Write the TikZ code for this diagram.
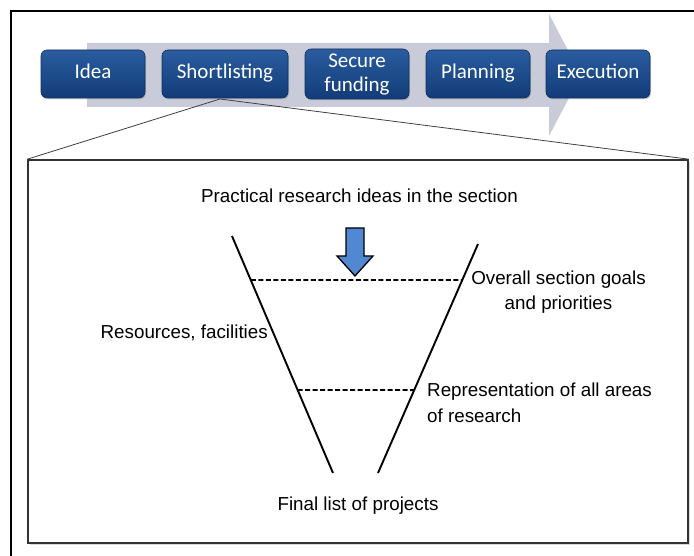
\documentclass[tikz,border=0pt]{standalone}
\usepackage{fontspec}
\setmainfont{Liberation Sans}
\newfontfamily\boxfont{Carlito}
\usetikzlibrary{shadows,calc}
\definecolor{stepblue}{HTML}{2A5C9F}
\definecolor{stepdark}{HTML}{123C78}
\definecolor{flowgray}{HTML}{C9CCD8}
\definecolor{dropblue}{HTML}{5288D2}

\begin{document}
\begin{tikzpicture}[
  x=1pt, y=-1pt,
  stage/.style={rounded corners=6pt, draw=stepdark!80!black, line width=0.6pt,
    top color=stepblue, bottom color=stepdark, text=white, align=center,
    font=\boxfont\fontsize{21}{25}\selectfont, minimum height=48pt, inner sep=0pt,
    drop shadow={shadow xshift=1pt, shadow yshift=-1.5pt, opacity=.35}},
  oneline/.style={text height=14pt, text depth=4pt},
  panel/.style={draw=black!80, line width=1.6pt, fill=white, inner sep=0pt,
    drop shadow={shadow xshift=1.5pt, shadow yshift=-2pt, opacity=.3}},
  label/.style={inner sep=0pt, font=\fontsize{18.8}{25.5}\selectfont},
  funnel/.style={line width=1.9pt},
  level/.style={line width=1.8pt, dash pattern=on 5pt off 2.5pt},
  zoomline/.style={draw=black!75, line width=0.8pt}
]
\useasboundingbox (0,0) rectangle (694,556);

% Outer frame
\draw[line width=1.5pt] (11,556) -- (11,11) -- (694,11);

% Process flow
\fill[flowgray] (87,43) -- (549,43) -- (549,14) -- (581,75) -- (549,136)
  -- (549,107) -- (87,107) -- cycle;
\node[stage, oneline, minimum width=104pt] (idea) at (93,74) {Idea};
\node[stage, oneline, minimum width=126pt] (short) at (225,74) {Shortlisting};
\node[stage, minimum width=104pt, minimum height=50pt] (secure) at (357,74)
  {Secure\\[-1pt]funding};
\node[stage, oneline, minimum width=104pt] (plan) at (478,74) {Planning};
\node[stage, oneline, minimum width=104pt] (exec) at (598,74) {Execution};

% Zoomed panel
\coordinate (zoomat) at (220,99);
\node[panel, minimum width=660pt, minimum height=383pt] (panel) at (358,351.5) {};
\draw[zoomline] (zoomat) -- (panel.north west);
\draw[zoomline] (zoomat) -- (panel.north east);

% Funnel
\coordinate (fl1) at (232,236);
\coordinate (fl2) at (333,473);
\coordinate (fr1) at (478,244);
\coordinate (fr2) at (378,473);
\draw[funnel] (fl1) -- (fl2);
\draw[funnel] (fr1) -- (fr2);
\draw[level] ($(fl1)!0.186!(fl2)$) -- ($(fr1)!0.157!(fr2)$);
\draw[level] ($(fl1)!0.65!(fl2)$) -- ($(fr1)!0.638!(fr2)$);

% Input arrow
\draw[fill=dropblue, line width=1.3pt, line join=miter] (346,228) -- (364,228)
  -- (364,256) -- (373,256) -- (355,276) -- (337,256) -- (346,256) -- cycle;

% Labels
\node[label] (ideas) at (359.5,196) {Practical research ideas in the section};
\node[label, align=center] (goals) at (558.5,292) {Overall section goals\\and priorities};
\node[label, anchor=east] (resources) at (268,333) {Resources, facilities};
\node[label, align=left, anchor=west] (areas) at (427,403) {Representation of all areas\\of research};
\node[label] (final) at (358,506) {Final list of projects};
\end{tikzpicture}
\end{document}
